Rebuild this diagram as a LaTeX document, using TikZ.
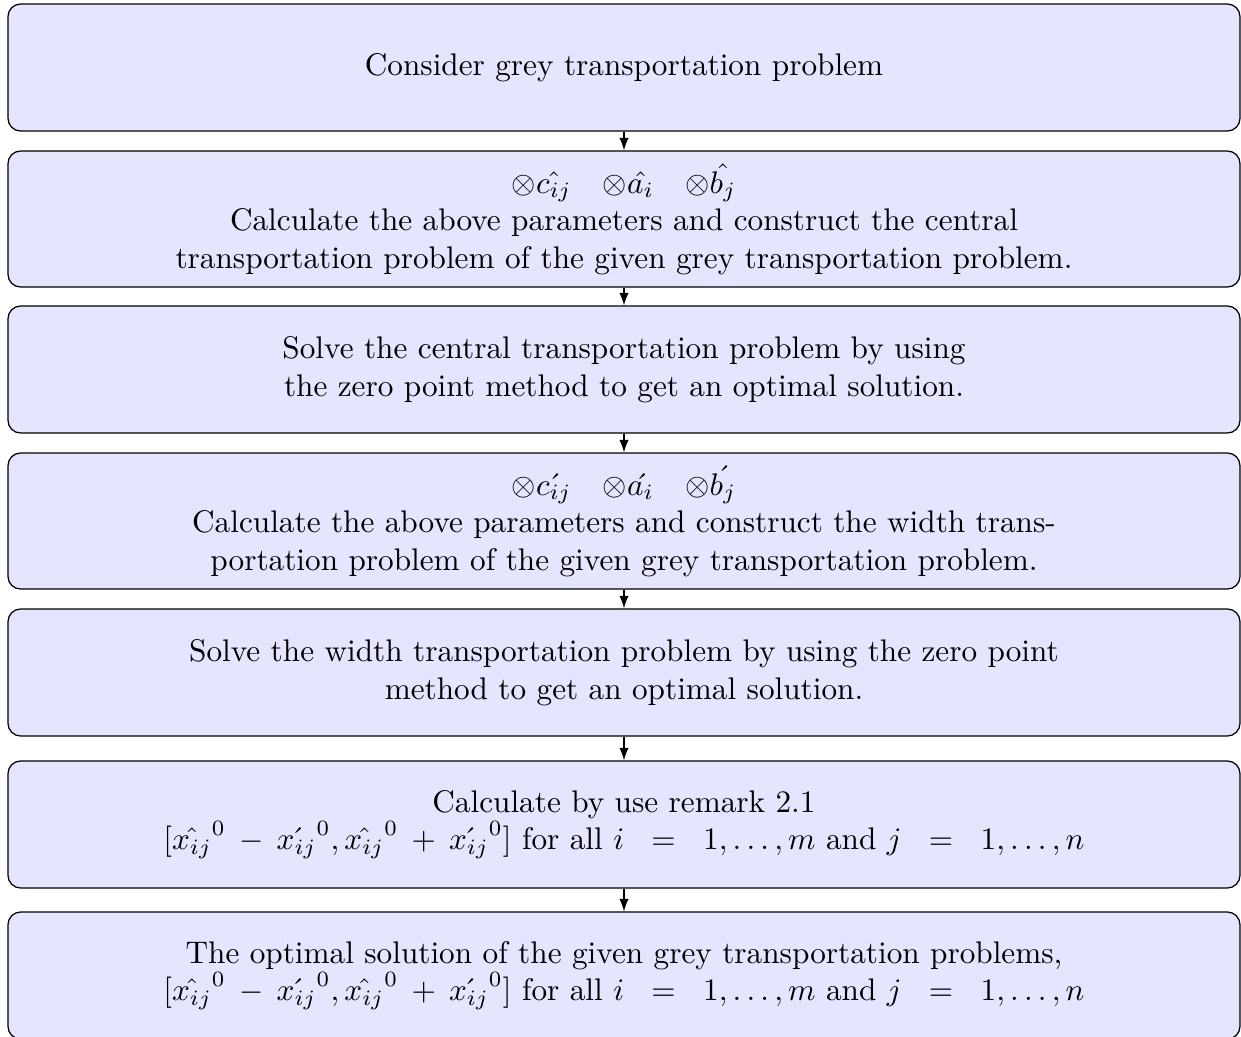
\documentclass[tikz,border=0pt]{standalone}
\usetikzlibrary{arrows}
\begin{document}
\begin{tikzpicture}[x=0.32pt,y=-0.32pt,
  box/.style={draw=black, fill=blue!10, rounded corners=4pt, minimum width=394.24pt, align=center, inner sep=0pt},
  tall/.style={minimum height=43.52pt},
  short/.style={minimum height=40.64pt},
  arr/.style={-latex}]
\useasboundingbox (0,0) rectangle (1241,1037);
\node[box, short] (b1) at (624,67.5) {Consider grey transportation problem};
\node[box, tall] (b2) at (624,219) {$\mathord{\otimes}\hat{c_{ij}}\quad\mathord{\otimes}\hat{a_i}\quad\mathord{\otimes}\hat{b_j}$\\
Calculate the above parameters and construct the central\\
transportation problem of the given grey transportation problem.};
\node[box, short] (b3) at (624,369.5) {Solve the central transportation problem by using\\
the zero point method to get an optimal solution.};
\node[box, tall] (b4) at (624,521) {$\mathord{\otimes}\acute{c_{ij}}\quad\mathord{\otimes}\acute{a_i}\quad\mathord{\otimes}\acute{b_j}$\\
Calculate the above parameters and construct the width trans-\\
portation problem of the given grey transportation problem.};
\node[box, short] (b5) at (624,672.5) {Solve the width transportation problem by using the zero point\\
method to get an optimal solution.};
\node[box, short] (b6) at (624,824.5) {Calculate by use remark 2.1\\
$[\hat{x_{ij}}^0\hspace{2pt}-\hspace{2pt}\acute{x_{ij}}^0,\hat{x_{ij}}^0\hspace{2pt}+\hspace{2pt}\acute{x_{ij}}^0]$ for all $i\hspace{6pt}=\hspace{6pt}1,\ldots,m$ and $j\hspace{6pt}=\hspace{6pt}1,\ldots,n$};
\node[box, short] (b7) at (624,975.5) {The optimal solution of the given grey transportation problems,\\
$[\hat{x_{ij}}^0\hspace{2pt}-\hspace{2pt}\acute{x_{ij}}^0,\hat{x_{ij}}^0\hspace{2pt}+\hspace{2pt}\acute{x_{ij}}^0]$ for all $i\hspace{6pt}=\hspace{6pt}1,\ldots,m$ and $j\hspace{6pt}=\hspace{6pt}1,\ldots,n$};
\draw[arr] (b1) -- (b2);
\draw[arr] (b2) -- (b3);
\draw[arr] (b3) -- (b4);
\draw[arr] (b4) -- (b5);
\draw[arr] (b5) -- (b6);
\draw[arr] (b6) -- (b7);
\end{tikzpicture}
\end{document}
